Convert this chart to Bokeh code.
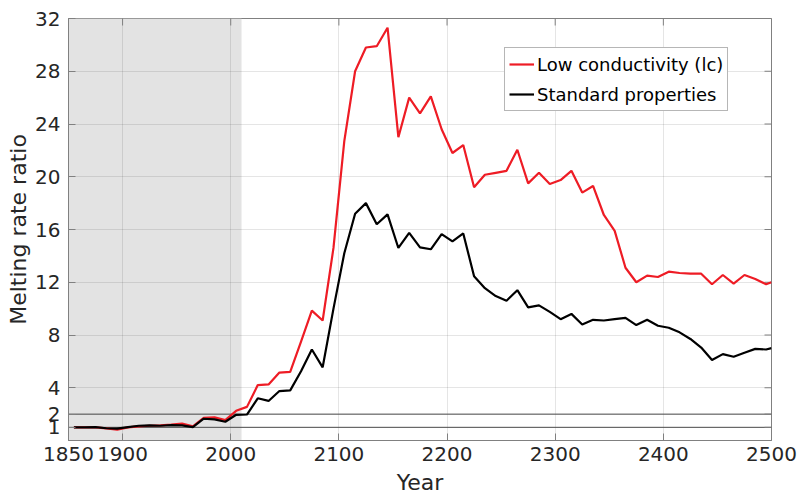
import math
from bokeh.plotting import figure
from bokeh.models import Range1d, FixedTicker, Span, Legend, LegendItem
from bokeh.embed import file_html
from bokeh.resources import INLINE

# ---------------- data ----------------
years = [1855, 1865, 1875, 1885, 1895, 1905, 1915, 1925, 1935, 1945,
         1955, 1965, 1975, 1985, 1995, 2005, 2015, 2025, 2035, 2045,
         2055, 2065, 2075, 2085, 2095, 2105, 2115, 2125, 2135, 2145,
         2155, 2165, 2175, 2185, 2195, 2205, 2215, 2225, 2235, 2245,
         2255, 2265, 2275, 2285, 2295, 2305, 2315, 2325, 2335, 2345,
         2355, 2365, 2375, 2385, 2395, 2405, 2415, 2425, 2435, 2445,
         2455, 2465, 2475, 2485, 2495, 2500]

low_conductivity = [1.0, 1.0, 1.0, 0.92, 0.82, 1.0, 1.07, 1.12, 1.15, 1.2,
                    1.28, 1.08, 1.72, 1.75, 1.55, 2.25, 2.55, 4.2, 4.25, 5.15,
                    5.2, 7.5, 9.85, 9.1, 14.6, 22.7, 28.0, 29.8, 29.9, 31.3,
                    23.0, 26.0, 24.8, 26.1, 23.6, 21.8, 22.4, 19.2, 20.15, 20.3,
                    20.45, 22.05, 19.5, 20.3, 19.45, 19.75, 20.45, 18.8, 19.3, 17.1,
                    15.9, 13.1, 12.0, 12.5, 12.4, 12.8, 12.7, 12.65, 12.65, 11.85,
                    12.55, 11.9, 12.55, 12.25, 11.85, 12.0]

standard = [1.0, 1.0, 1.02, 0.93, 0.9, 1.02, 1.12, 1.15, 1.12, 1.17,
            1.15, 1.02, 1.65, 1.6, 1.42, 1.95, 1.97, 3.2, 3.0, 3.75,
            3.8, 5.25, 6.9, 5.55, 10.0, 14.2, 17.2, 18.0, 16.4, 17.15,
            14.6, 15.75, 14.65, 14.5, 15.65, 15.1, 15.7, 12.45, 11.55, 10.95,
            10.6, 11.4, 10.1, 10.25, 9.75, 9.2, 9.6, 8.8, 9.15, 9.1,
            9.2, 9.3, 8.75, 9.15, 8.7, 8.55, 8.2, 7.7, 7.05, 6.1,
            6.55, 6.35, 6.65, 6.95, 6.9, 7.0]

x_ticks = [1850, 1900, 2000, 2100, 2200, 2300, 2400, 2500]
y_ticks = [1, 2, 4, 8, 12, 16, 20, 24, 28, 32]
x_limits = [1850, 2500]
y_limits = [0, 32]
historical_period = [1850, 2010]
reference_levels = [1, 2]
series_labels = ["Low conductivity (lc)", "Standard properties"]

# ---------------- figure ----------------
FONT = "DejaVu Sans"
TXT = "#262626"
AXC = "#808080"

p = figure(width=799, height=497, output_backend="svg", toolbar_location=None,
           x_range=Range1d(*x_limits), y_range=Range1d(*y_limits),
           min_border_left=68, min_border_right=28, min_border_top=18,
           min_border_bottom=57, background_fill_color="white",
           border_fill_color="white", outline_line_color=AXC)

xt = FixedTicker(ticks=x_ticks)
yt = FixedTicker(ticks=y_ticks)

for ax, tk in ((p.xaxis[0], xt), (p.yaxis[0], yt)):
    ax.ticker = tk
    ax.major_tick_in = 7
    ax.major_tick_out = 0
    ax.minor_tick_line_color = None
    ax.axis_line_color = AXC
    ax.major_tick_line_color = AXC
    ax.major_label_text_font = FONT
    ax.major_label_text_font_size = "20px"
    ax.major_label_text_color = TXT
    ax.axis_label_text_font = FONT
    ax.axis_label_text_font_size = "22px"
    ax.axis_label_text_font_style = "normal"
    ax.axis_label_text_color = TXT

p.xaxis.axis_label = "Year"
p.yaxis.axis_label = "Melting rate ratio"
p.xaxis.major_label_standoff = 6
p.yaxis.major_label_standoff = 8
p.xaxis.axis_label_standoff = 6
p.yaxis.axis_label_standoff = 1

p.xgrid.ticker = xt
p.ygrid.ticker = yt
p.grid.grid_line_color = TXT
p.grid.grid_line_alpha = 0.12

# shaded historical period (beneath the grid)
p.quad(left=[historical_period[0]], right=[historical_period[1]],
       bottom=[y_limits[0]], top=[y_limits[1]],
       fill_color="#e3e3e3", line_color=None, level="image")

for lv in reference_levels:
    p.add_layout(Span(location=lv, dimension="width", line_color="#4d4d4d",
                      line_width=1, level="underlay"))

# inner tick marks on the top and right edges of the box (clipped to frame)
p.scatter(x=x_ticks, y=[y_limits[1]] * len(x_ticks), marker="dash", size=14,
          angle=math.pi / 2, line_color=AXC, line_width=1)
p.scatter(x=[x_limits[1]] * len(y_ticks), y=y_ticks, marker="dash", size=14,
          line_color=AXC, line_width=1)

r_lc = p.line(years, low_conductivity, line_color="#ee1c25", line_width=2.2)
r_st = p.line(years, standard, line_color="black", line_width=2.2)

legend = Legend(items=[LegendItem(label=series_labels[0], renderers=[r_lc]),
                       LegendItem(label=series_labels[1], renderers=[r_st])],
                location=(436, 329), label_text_font=FONT,
                label_text_font_size="18px", label_text_color="black",
                glyph_width=25, glyph_height=24, label_height=24,
                spacing=6, padding=4, margin=0, label_standoff=3,
                border_line_color="#6e6e6e", border_line_width=1,
                background_fill_color="white", background_fill_alpha=1)
p.add_layout(legend)

open("out.html", "w").write(file_html(p, INLINE))
